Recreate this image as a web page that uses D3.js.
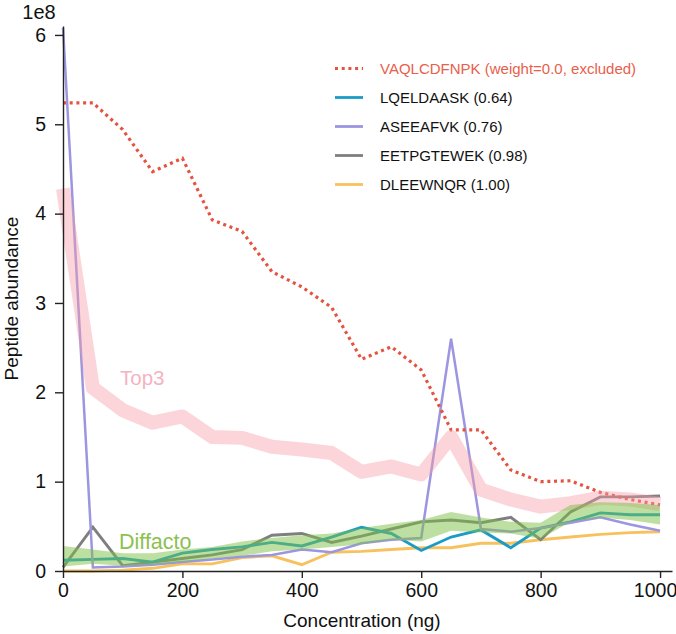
<!DOCTYPE html>
<html>
<head>
<meta charset="utf-8">
<script src="https://cdn.jsdelivr.net/npm/d3@7/dist/d3.min.js"></script>
<style>
  html, body { margin: 0; padding: 0; background: #fff; }
  svg { display: block; font-family: "Liberation Sans", Arial, Helvetica, sans-serif; }
</style>
</head>
<body>
<svg id="chart" width="676" height="634"></svg>
<script>
// ---- data (values in units of 1e8) ----
const concentrations = [0,50,100,150,200,250,300,350,400,450,500,550,600,650,700,750,800,850,900,950,1000];
const VAQLCDFNPK = [5.24,5.24,4.94,4.47,4.62,3.93,3.80,3.35,3.18,2.95,2.37,2.51,2.25,1.58,1.58,1.13,1.00,1.01,0.88,0.80,0.74];
const LQELDAASK  = [0.12,0.13,0.14,0.10,0.20,0.24,0.27,0.32,0.28,0.38,0.49,0.42,0.23,0.38,0.46,0.26,0.48,0.55,0.65,0.63,0.63];
const ASEEAFVK   = [6.08,0.04,0.05,0.07,0.10,0.13,0.16,0.18,0.24,0.21,0.31,0.35,0.37,2.60,0.47,0.44,0.48,0.54,0.60,0.52,0.45];
const EETPGTEWEK = [0.04,0.49,0.06,0.10,0.14,0.18,0.24,0.40,0.42,0.32,0.39,0.47,0.55,0.57,0.54,0.60,0.35,0.66,0.83,0.83,0.84];
const DLEEWNQR   = [0.00,0.00,0.01,0.03,0.08,0.08,0.15,0.17,0.07,0.21,0.22,0.24,0.26,0.26,0.31,0.31,0.35,0.38,0.41,0.43,0.44];
const top3       = [4.28,2.05,1.80,1.66,1.73,1.50,1.49,1.39,1.36,1.32,1.11,1.17,1.08,1.50,0.91,0.80,0.72,0.76,0.82,0.80,0.75];
const diffactoLow  = [0.05,0.08,0.06,0.07,0.10,0.14,0.17,0.22,0.24,0.27,0.30,0.35,0.33,0.45,0.43,0.42,0.36,0.55,0.60,0.57,0.52];
const diffactoHigh = [0.28,0.24,0.20,0.20,0.24,0.27,0.33,0.37,0.40,0.42,0.48,0.53,0.57,0.66,0.60,0.55,0.54,0.74,0.77,0.76,0.74];
const xTicks = [0,200,400,600,800,1000];
const yTicks = [0,1,2,3,4,5,6];
const legendLabels = ["VAQLCDFNPK (weight=0.0, excluded)","LQELDAASK (0.64)","ASEEAFVK (0.76)","EETPGTEWEK (0.98)","DLEEWNQR (1.00)"];

// ---- layout ----
const svg = d3.select("#chart");
const L = 63, R = 672, T = 26, B = 571;
const x = d3.scaleLinear().domain([0, 1020]).range([L, R]);
const y = d3.scaleLinear().domain([0, 6.1]).range([B, T]);

const colors = {
  red: "#e5533f", blue: "#1b9bc6", purple: "#9c96e0", grey: "#7f7f7f", yellow: "#f7c25e",
  pink: "#f59aa6", green: "#7dbf46"
};

const line = d3.line().x((d,i) => x(concentrations[i])).y(d => y(d));

const series = [
  {vals: VAQLCDFNPK, color: colors.red, dotted: true},
  {vals: LQELDAASK, color: colors.blue},
  {vals: ASEEAFVK, color: colors.purple},
  {vals: EETPGTEWEK, color: colors.grey},
  {vals: DLEEWNQR, color: colors.yellow}
];
[4,3,1,2].forEach(k => {
  svg.append("path").datum(series[k].vals).attr("d", line)
    .attr("fill","none").attr("stroke", series[k].color)
    .attr("stroke-width", k === 2 ? 2.5 : 2.9).attr("stroke-linejoin","miter");
});
svg.append("path").datum(VAQLCDFNPK).attr("d", line)
  .attr("fill","none").attr("stroke", colors.red)
  .attr("stroke-width", 3.2).attr("stroke-dasharray","3,3.7");

// Top3 band (thick translucent line)
svg.append("path").datum(top3).attr("d", line)
  .attr("fill","none").attr("stroke", colors.pink).attr("stroke-opacity", 0.42)
  .attr("stroke-width", 14).attr("stroke-linejoin","round");

// Diffacto band
const area = d3.area()
  .x((d,i) => x(concentrations[i]))
  .y0((d,i) => y(diffactoLow[i]))
  .y1((d,i) => y(diffactoHigh[i]));
svg.append("path").datum(diffactoLow).attr("d", area)
  .attr("fill", colors.green).attr("fill-opacity", 0.5);

// method labels
svg.append("text").attr("x", 120).attr("y", 385).text("Top3")
  .attr("fill", "#f4b3bf").attr("font-size", 20.5);
svg.append("text").attr("x", 119).attr("y", 549).text("Diffacto")
  .attr("fill", "#8cc152").attr("font-size", 21.5);

// axes
const xAxis = d3.axisBottom(x).tickValues(xTicks).tickFormat(d3.format("d"))
  .tickSize(7).tickPadding(5).tickSizeOuter(0);
const yAxis = d3.axisLeft(y).tickValues(yTicks).tickFormat(d3.format("d"))
  .tickSize(8).tickPadding(9).tickSizeOuter(0);
const gx = svg.append("g").attr("transform", `translate(0,${B})`).call(xAxis);
const gy = svg.append("g").attr("transform", `translate(${L},0)`).call(yAxis);
[gx, gy].forEach(g => {
  g.select(".domain").attr("stroke", "#222").attr("stroke-width", 1.4);
  g.selectAll(".tick line").attr("stroke", "#222").attr("stroke-width", 1.4);
  g.selectAll(".tick text").attr("fill", "#111").attr("font-size", 19.5)
    .attr("font-family", "'Liberation Sans', Arial, sans-serif");
});
// keep the last x tick label inside the canvas
gx.selectAll(".tick text").filter(d => d === 1000).attr("dx", -5);

// axis labels
svg.append("text").attr("x", 39).attr("y", 19).attr("text-anchor","middle")
  .attr("font-size", 20).attr("fill","#111").text("1e8");
svg.append("text").attr("transform", `translate(18,${(T+B)/2}) rotate(-90)`)
  .attr("text-anchor","middle").attr("font-size", 19).attr("fill","#111").text("Peptide abundance");
svg.append("text").attr("x", 362).attr("y", 627).attr("text-anchor","middle")
  .attr("font-size", 19).attr("fill","#111").text("Concentration (ng)");

// legend
const legY0 = 68.5, legDy = 29;
series.forEach((s, i) => {
  const yy = legY0 + i * legDy;
  svg.append("line").attr("x1", 335).attr("x2", 363).attr("y1", yy).attr("y2", yy)
    .attr("stroke", s.color).attr("stroke-width", s.dotted ? 3.2 : 2.8)
    .attr("stroke-dasharray", s.dotted ? "3,3.7" : null);
  svg.append("text").attr("x", 380).attr("y", yy).attr("dy", "0.36em")
    .attr("font-size", 15).attr("fill", i === 0 ? "#e8604c" : "#111")
    .text(legendLabels[i]);
});
</script>
</body>
</html>
